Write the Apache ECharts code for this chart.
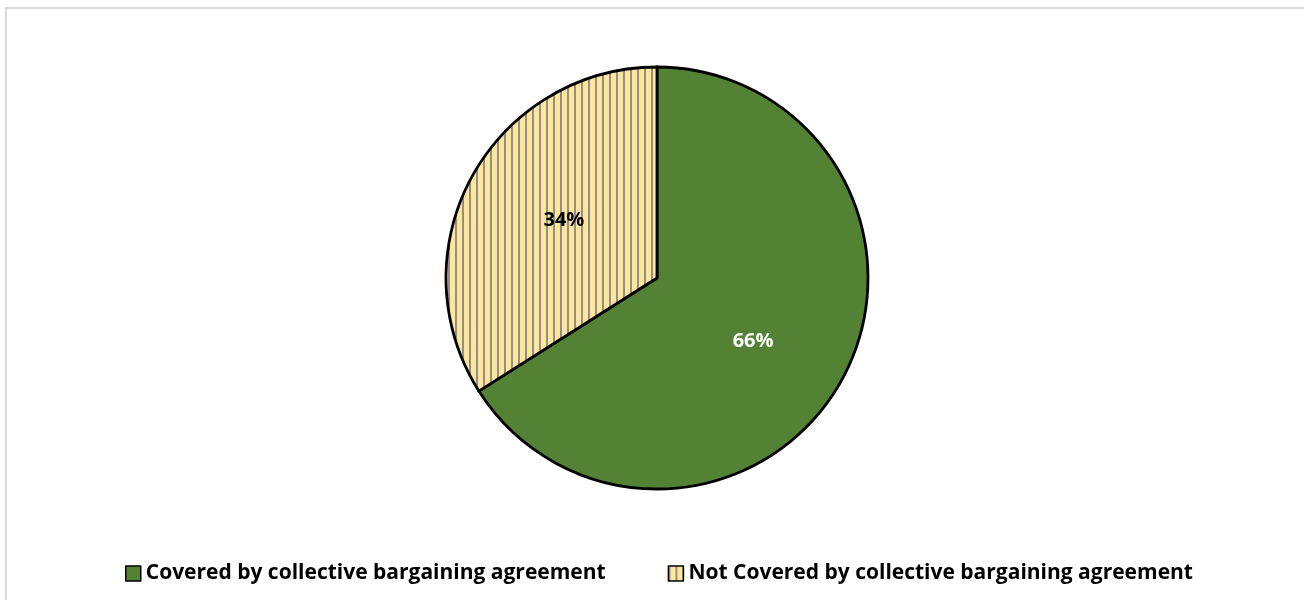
<!DOCTYPE html>
<html><head><meta charset="utf-8">
<script src="https://cdn.jsdelivr.net/npm/echarts@6/dist/echarts.min.js"></script>
<style>html,body{margin:0;padding:0;background:#fff}#c{width:1304px;height:600px}</style>
</head><body><div id="c"></div>
<script>
const categories = ['Covered by collective bargaining agreement', 'Not Covered by collective bargaining agreement'];
const values = [66, 34];
const labels = ['66%', '34%'];

function stripe() {
  const cv = document.createElement('canvas');
  cv.width = 7; cv.height = 10;
  const ctx = cv.getContext('2d');
  ctx.fillStyle = '#FFE699'; ctx.fillRect(0, 0, 7, 10);
  ctx.fillStyle = '#8f8f8f'; ctx.fillRect(0, 0, 2, 10);
  return cv;
}
const pat = { image: stripe(), repeat: 'repeat' };

const chart = echarts.init(document.getElementById('c'));
const font = '"Open Sans", "Liberation Sans", sans-serif';
chart.setOption({
  animation: false,
  graphic: [{ type: 'rect', shape: { x: 6, y: 8, width: 1400, height: 700 }, style: { fill: 'none', stroke: '#d9d9d9', lineWidth: 2 }, silent: true }],
  legend: {
    left: 120, top: 558, itemWidth: 15, itemHeight: 15, itemGap: 62,
    icon: 'rect',
    itemStyle: { borderColor: '#000', borderWidth: 1.5 },
    textStyle: { fontFamily: font, fontWeight: 'bold', fontSize: 21, color: '#000' },
    data: categories
  },
  series: [{
    type: 'pie', center: [657, 278], radius: 211, startAngle: 90, clockwise: true,
    itemStyle: { borderColor: '#000', borderWidth: 2.8 },
    label: { position: 'inside', fontFamily: font, fontWeight: 'bold', fontSize: 20 },
    labelLine: { show: false },
    emphasis: { disabled: true },
    data: [
      { name: categories[0], value: values[0], itemStyle: { color: '#548235' },
        label: { formatter: labels[0], color: '#fff', offset: [1, 11] } },
      { name: categories[1], value: values[1], itemStyle: { color: pat },
        label: { formatter: labels[1], color: '#000', offset: [2, -5] } }
    ]
  }]
});
</script></body></html>
